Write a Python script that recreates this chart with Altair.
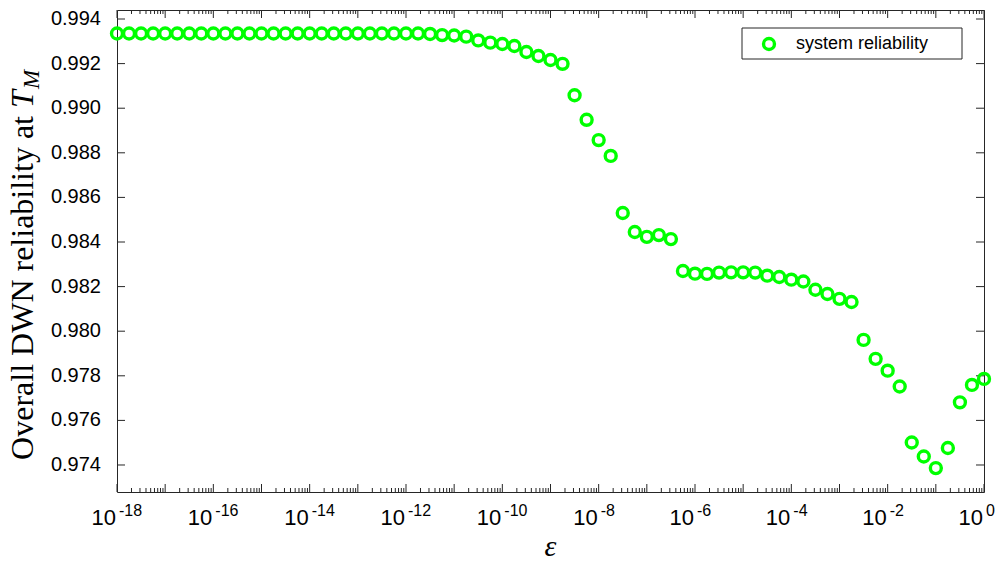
import altair as alt
import pandas as pd

# sweep of the fault-probability parameter (log10 of epsilon)
eps_exp = [
    -18.00, -17.75, -17.50, -17.25, -17.00, -16.75, -16.50, -16.25,
    -16.00, -15.75, -15.50, -15.25, -15.00, -14.75, -14.50, -14.25,
    -14.00, -13.75, -13.50, -13.25, -13.00, -12.75, -12.50, -12.25,
    -12.00, -11.75, -11.50, -11.25, -11.00, -10.75, -10.50, -10.25,
    -10.00, -9.75, -9.50, -9.25, -9.00, -8.75, -8.50, -8.25,
    -8.00, -7.75, -7.50, -7.25, -7.00, -6.75, -6.50, -6.25,
    -6.00, -5.75, -5.50, -5.25, -5.00, -4.75, -4.50, -4.25,
    -4.00, -3.75, -3.50, -3.25, -3.00, -2.75, -2.50, -2.25,
    -2.00, -1.75, -1.50, -1.25, -1.00, -0.75, -0.50, -0.25,
    0.00,
]

# overall DWN reliability at T_M for each epsilon
reliability = [
    0.99335, 0.99335, 0.99335, 0.99335, 0.99335, 0.99335, 0.99335, 0.99335,
    0.99335, 0.99335, 0.99335, 0.99335, 0.99335, 0.99335, 0.99335, 0.99335,
    0.99335, 0.99335, 0.99335, 0.99335, 0.99335, 0.99335, 0.99335, 0.99335,
    0.99335, 0.99335, 0.99333, 0.99328, 0.99326, 0.99321, 0.99304, 0.99294,
    0.99288, 0.99279, 0.99252, 0.99234, 0.99216, 0.99199, 0.99058, 0.98948,
    0.98857, 0.98786, 0.98530, 0.98445, 0.98423, 0.98431, 0.98413, 0.98270,
    0.98258, 0.98257, 0.98263, 0.98264, 0.98264, 0.98263, 0.98249, 0.98243,
    0.98231, 0.98223, 0.98186, 0.98167, 0.98145, 0.98131, 0.97961, 0.97876,
    0.97823, 0.97752, 0.97501, 0.97438, 0.97386, 0.97476, 0.97681, 0.97759,
    0.97786,
]

series_name = "system reliability"

y_tick_values = [0.974, 0.976, 0.978, 0.980, 0.982, 0.984, 0.986, 0.988, 0.990, 0.992, 0.994]
x_label_exps = [-18, -16, -14, -12, -10, -8, -6, -4, -2, 0]

W, H = 867, 482
GREEN = "#00ff00"
INK = "#262626"
SANS = "Liberation Sans"
SERIF = "Liberation Serif"

df = pd.DataFrame({"eps": [10.0 ** e for e in eps_exp], "rel": reliability})

x_scale = alt.Scale(type="log", domain=[1e-18, 1.0], nice=False)
y_scale = alt.Scale(domain=[0.972789, 0.994404], nice=False, zero=False)

# decade and sub-decade tick positions for the log axis
major = pd.DataFrame({"v": [10.0 ** k for k in range(-18, 1)]})
minor = pd.DataFrame({"v": [m * 10.0 ** k for k in range(-18, 0) for m in range(2, 10)]})
yticks = pd.DataFrame({"v": y_tick_values, "lab": [f"{v:.3f}" for v in y_tick_values]})
xlabels = pd.DataFrame({
    "v": [10.0 ** e for e in x_label_exps],
    "base": ["10"] * len(x_label_exps),
    "exp": [str(e) for e in x_label_exps],
})

X = lambda f: alt.X(f, type="quantitative", scale=x_scale, axis=None)
Y = lambda f: alt.Y(f, type="quantitative", scale=y_scale, axis=None)

def xrule(data, y0, y1):
    return alt.Chart(data).mark_rule(color=INK, strokeWidth=1).encode(
        x=X("v"), y=alt.value(y0), y2=alt.value(y1))

def yrule(data, x0, x1):
    return alt.Chart(data).mark_rule(color=INK, strokeWidth=1).encode(
        y=Y("v"), x=alt.value(x0), x2=alt.value(x1))

ticks = [
    xrule(major, H - 8, H), xrule(minor, H - 4, H),
    xrule(major, 0, 8), xrule(minor, 0, 4),
    yrule(yticks, 0, 8), yrule(yticks, W - 8, W),
]

ylabels = alt.Chart(yticks).mark_text(
    align="right", baseline="middle", font=SANS, fontSize=20, color="black", dx=-16
).encode(y=Y("v"), x=alt.value(0), text="lab:N")

xbase = alt.Chart(xlabels).mark_text(
    align="right", baseline="alphabetic", font=SANS, fontSize=22, color="black", dx=-1
).encode(x=X("v"), y=alt.value(515), text="base:N")

xexp = alt.Chart(xlabels).mark_text(
    align="left", baseline="alphabetic", font=SANS, fontSize=16, color="black", dx=2
).encode(x=X("v"), y=alt.value(506), text="exp:N")

one = pd.DataFrame({"k": [0]})

xtitle = alt.Chart(one).mark_text(
    align="center", baseline="alphabetic", font=SERIF, fontSize=30, fontStyle="italic", color="black"
).encode(x=alt.value(W / 2), y=alt.value(546), text=alt.value("ε"))

ytitle_main = alt.Chart(one).mark_text(
    align="right", baseline="alphabetic", angle=270, font=SERIF, fontSize=32, color="black"
).encode(x=alt.value(-84), y=alt.value(106), text=alt.value("Overall DWN reliability at"))

ytitle_T = alt.Chart(one).mark_text(
    align="left", baseline="alphabetic", angle=270, font=SERIF, fontSize=32, fontStyle="italic", color="black"
).encode(x=alt.value(-84), y=alt.value(98), text=alt.value("T"))

ytitle_M = alt.Chart(one).mark_text(
    align="left", baseline="alphabetic", angle=270, font=SERIF, fontSize=23, fontStyle="italic", color="black"
).encode(x=alt.value(-78), y=alt.value(79), text=alt.value("M"))

points = alt.Chart(df).mark_point(
    shape="circle", filled=False, size=120, strokeWidth=3.4, color=GREEN, opacity=1
).encode(x=X("eps"), y=Y("rel"))

leg = pd.DataFrame({"name": [series_name]})
legend_box = alt.Chart(leg).mark_rect(fill="white", stroke=INK, strokeWidth=1).encode(
    x=alt.value(625), x2=alt.value(845), y=alt.value(18), y2=alt.value(49))
legend_sym = alt.Chart(leg).mark_point(
    shape="circle", filled=False, size=120, strokeWidth=3.4, color=GREEN, opacity=1
).encode(x=alt.value(652), y=alt.value(34))
legend_txt = alt.Chart(leg).mark_text(
    align="left", baseline="middle", font=SANS, fontSize=18, color="black"
).encode(x=alt.value(679), y=alt.value(34), text="name:N")

chart = alt.layer(
    *ticks, ylabels, xbase, xexp, xtitle, ytitle_main, ytitle_T, ytitle_M,
    points, legend_box, legend_sym, legend_txt,
).properties(
    width=W, height=H,
    padding={"left": 117, "top": 10, "right": 19, "bottom": 73},
    autosize=alt.AutoSizeParams(type="none"),
    background="white",
).configure_view(stroke=INK, strokeWidth=1)

chart.save("out.html", embed_options={"renderer": "svg", "actions": False})
